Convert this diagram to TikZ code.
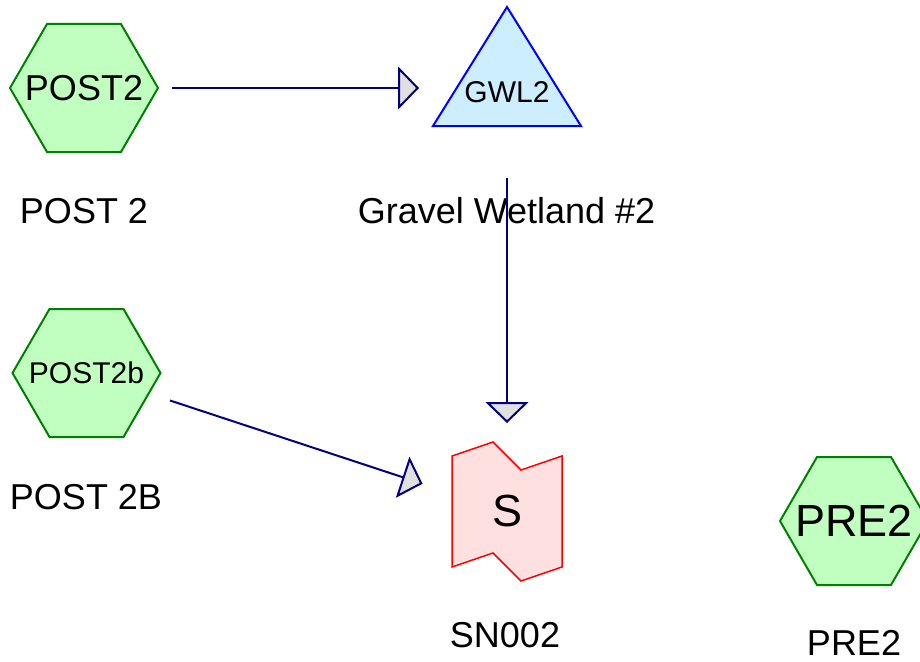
\documentclass[tikz,border=0pt]{standalone}
\usepackage{fontspec}
\setmainfont{Liberation Sans}
\usetikzlibrary{calc,arrows.meta}
\definecolor{hexfill}{RGB}{192,255,192}
\definecolor{hexline}{RGB}{0,128,0}
\definecolor{trifill}{RGB}{204,238,255}
\definecolor{triline}{RGB}{0,0,255}
\definecolor{snfill}{RGB}{255,224,224}
\definecolor{snline}{RGB}{255,0,0}
\definecolor{flowline}{RGB}{0,0,128}
\definecolor{tipfill}{RGB}{224,224,224}
\tikzset{
  box/.style={rectangle,inner sep=0pt,outer sep=0pt},
  hexbox/.style={box,minimum width=148pt,minimum height=128pt},
  hexedge/.style={draw=hexline,fill=hexfill,line width=2pt,line join=miter},
  flow/.style={draw=flowline,line width=2pt,
    -{Triangle[length=21pt,width=43pt,fill=tipfill]}},
  lbl/.style={anchor=base,font=\fs{36}}
}
\newcommand*{\fs}[1]{\fontsize{#1}{#1}\selectfont}

\begin{document}
\begin{tikzpicture}[x=1pt,y=-1pt]
\useasboundingbox (0,0) rectangle (920,661);

% Hexagons
\node[hexbox] (post2) at (84,88) {};
\node[hexbox] (post2b) at (86.5,373) {};
\node[hexbox] (pre2) at (854,521) {};
\foreach \n in {post2,post2b,pre2}
  \draw[hexedge] (\n.west) -- ($(\n.north west)+(37,0)$) --
    ($(\n.north east)+(-37,0)$) -- (\n.east) --
    ($(\n.south east)+(-37,0)$) -- ($(\n.south west)+(37,0)$) -- cycle;
\node[font=\fs{36}] (post2txt) at (post2) {POST2};
\node[font=\fs{30}] (post2btxt) at (post2b) {POST2b};
\node[font=\fs{45}] (pre2txt) at (pre2) {PRE2};

% Triangle
\node[box,minimum width=148pt,minimum height=119pt] (gwl2) at (507,66.5) {};
\draw[draw=triline,fill=trifill,line width=2pt]
  (gwl2.south west) -- (gwl2.north) -- (gwl2.south east) -- cycle;
\node[anchor=base,font=\fs{30}] (gwl2txt) at (507,102) {GWL2};

% Notched sheet
\node[box,minimum width=110pt,minimum height=139pt] (sn002) at (507,511.5) {};
\draw[draw=snline,fill=snfill,line width=1.5pt]
  ($(sn002.north west)+(0,14)$) -- ($(sn002.north west)+(41,0)$) --
  ($(sn002.north west)+(69,28)$) -- ($(sn002.north east)+(0,14)$) --
  ($(sn002.south east)+(0,-14)$) -- ($(sn002.south west)+(69,0)$) --
  ($(sn002.south west)+(41,-28)$) -- ($(sn002.south west)+(0,-14)$) -- cycle;
\node[font=\fs{45}] (stxt) at (sn002) {S};

% Labels
\node[lbl] (post2lbl) at (84,223) {POST 2};
\node[lbl] (gwl2lbl) at (506.5,223) {Gravel Wetland \#2};
\node[lbl] (post2blbl) at (86,509) {POST 2B};
\node[lbl] (sn002lbl) at (505,647) {SN002};
\node[lbl] (pre2lbl) at (854,655) {PRE2};

% Flows
\draw[flow,shorten <=14pt,shorten >=14pt] (post2.east) -- (post2.east -| gwl2.west);
\draw[flow,shorten <=52pt,shorten >=19pt] (gwl2.south) -- (sn002.north);
\draw[flow,shorten <=10pt,shorten >=31pt] (post2b) -- (sn002);

\end{tikzpicture}
\end{document}
